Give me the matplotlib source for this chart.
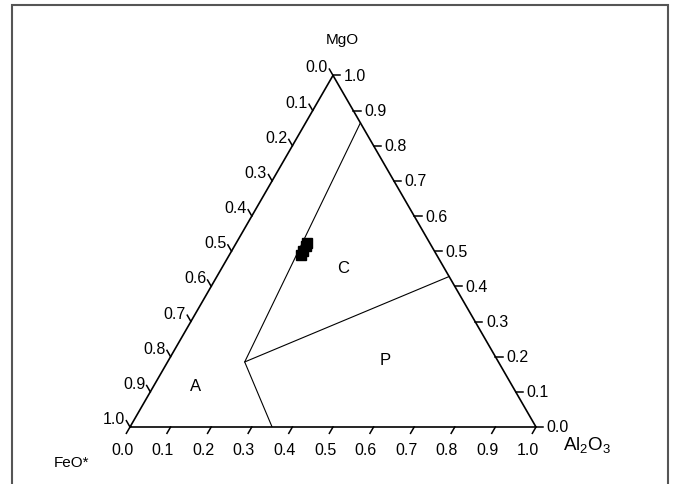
import numpy as np
import matplotlib.pyplot as plt
from matplotlib.patches import Rectangle

plt.rcParams['font.family'] = ['Liberation Sans', 'DejaVu Sans']

# ternary ticks
ticks = [0.0, 0.1, 0.2, 0.3, 0.4, 0.5, 0.6, 0.7, 0.8, 0.9, 1.0]
tick_labels = ['%.1f' % t for t in ticks]

# field boundaries (Al2O3, MgO) fractions
bnd_al = [0.135, 0.19, 0.35]
bnd_mg = [0.865, 0.185, 0.0]
bnd2_al = [0.19, 0.572]
bnd2_mg = [0.185, 0.428]

# samples (Al2O3, MgO)
smp_al = [0.175, 0.175, 0.175, 0.175]
smp_mg = [0.49, 0.50, 0.515, 0.522]

# field names
fields = ['A', 'C', 'P']
field_al = [0.102, 0.297, 0.532]
field_mg = [0.117, 0.455, 0.193]

H = np.sqrt(3) / 2


def xy(al, mg):
    al = np.asarray(al, dtype=float)
    mg = np.asarray(mg, dtype=float)
    return al + 0.5 * mg, mg * H


fig = plt.figure(figsize=(6.74, 4.85), dpi=100)
ax = fig.add_axes([130 / 674, 57 / 485, 406 / 674, 351.6 / 485])
ax.set_xlim(0, 1)
ax.set_ylim(0, H)
ax.axis('off')

# frame round the figure
fig.patches.append(Rectangle((11.5 / 674, -0.05), 656.5 / 674, 1.05 - 5.5 / 485,
                             transform=fig.transFigure, fill=False,
                             edgecolor='#555555', lw=1.5, clip_on=False))

# triangle
tx, ty = xy([0, 1, 0, 0], [0, 0, 1, 0])
ax.plot(tx, ty, color='black', lw=1.2, clip_on=False)

fs = 11.5
tl = 0.018
for t, lab in zip(ticks, tick_labels):
    # bottom axis: Al2O3
    bx, by = xy(t, 0)
    ex, ey = bx - tl * 0.5, by - tl * H
    ax.plot([bx, ex], [by, ey], color='black', lw=1.1, clip_on=False)
    ax.annotate(lab, (ex, ey), xytext=(-3, -11.5), textcoords='offset points',
                ha='center', va='center', fontsize=fs, annotation_clip=False)
    # left axis: FeO*, 0 at the top
    lx, ly = xy(0, 1 - t)
    ex, ey = lx - tl * 0.5, ly + tl * H
    ax.plot([lx, ex], [ly, ey], color='black', lw=1.1, clip_on=False)
    ax.annotate(lab, (ex, ey), xytext=(-1, 1.5), textcoords='offset points',
                ha='right', va='center', fontsize=fs, annotation_clip=False)
    # right axis: MgO
    rx, ry = xy(1 - t, t)
    ex, ey = rx + tl, ry
    ax.plot([rx, ex], [ry, ey], color='black', lw=1.1, clip_on=False)
    ax.annotate(lab, (ex, ey), xytext=(2.5, 0), textcoords='offset points',
                ha='left', va='center', fontsize=fs, annotation_clip=False)

# boundaries
x1, y1 = xy(bnd_al, bnd_mg)
ax.plot(x1, y1, color='black', lw=0.8)
x2, y2 = xy(bnd2_al, bnd2_mg)
ax.plot(x2, y2, color='black', lw=0.8)

# samples
sx, sy = xy(smp_al, smp_mg)
ax.plot(sx, sy, 's', color='black', ms=7.5, mec='black')

for name, a, m in zip(fields, field_al, field_mg):
    fx, fy = xy(a, m)
    ax.text(fx, fy, name, ha='center', va='center', fontsize=12)

# component names
ax.annotate('MgO', xy(0, 1), xytext=(7, 26), textcoords='offset points',
            ha='center', va='center', fontsize=11, annotation_clip=False)
ax.annotate('FeO*', xy(0, 0), xytext=(-42, -25), textcoords='offset points',
            ha='center', va='center', fontsize=11, annotation_clip=False)
ax.annotate(r'$\mathregular{Al_2O_3}$', xy(1, 0), xytext=(19.5, -16),
            textcoords='offset points', ha='left', va='baseline', fontsize=13.5,
            annotation_clip=False)

fig.savefig('out.png', dpi=100)
